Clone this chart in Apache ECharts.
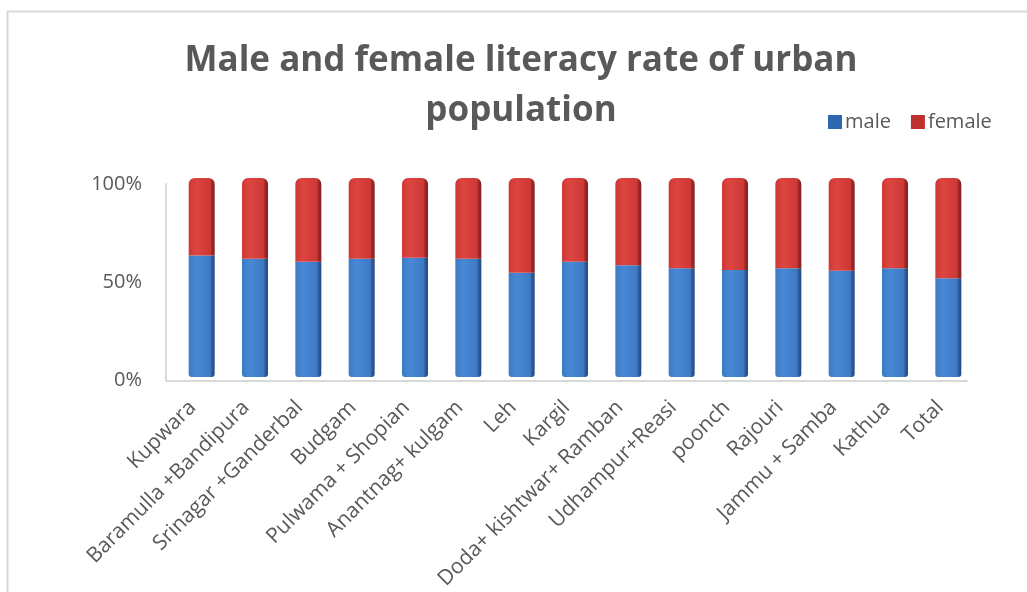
<!DOCTYPE html>
<html>
<head>
<meta charset="utf-8">
<script src="https://cdn.jsdelivr.net/npm/echarts@6/dist/echarts.min.js"></script>
<style>
  html, body { margin: 0; padding: 0; background: #ffffff; }
  #chart { width: 1027px; height: 592px; }
</style>
</head>
<body>
<div id="chart"></div>
<script>
// Districts (urban areas) shown along the category axis
const categories = [
  'Kupwara', 'Baramulla +Bandipura', 'Srinagar +Ganderbal', 'Budgam',
  'Pulwama + Shopian', 'Anantnag+ kulgam', 'Leh', 'Kargil',
  'Doda+ kishtwar+ Ramban', 'Udhampur+Reasi', 'poonch', 'Rajouri',
  'Jammu + Samba', 'Kathua', 'Total'
];

// Share of each stacked column (percent)
const maleShare = [61.0, 59.4, 57.9, 59.4, 59.9, 59.4, 52.4, 57.9, 56.1, 54.6, 53.8, 54.6, 53.4, 54.6, 49.6];
const femaleShare = [39.0, 40.6, 42.1, 40.6, 40.1, 40.6, 47.6, 42.1, 43.9, 45.4, 46.2, 45.4, 46.6, 45.4, 50.4];

const yTicks = [0, 50, 100];

const textGrey = '#595959';
const lineGrey = '#d9d9d9';
const font = 'Open Sans';

// Horizontal gradient: lit front face, then a darker strip for the column's side
function columnFill(light, mid, dark, side) {
  return new echarts.graphic.LinearGradient(0, 0, 1, 0, [
    { offset: 0, color: mid },
    { offset: 0.3, color: light },
    { offset: 0.84, color: mid },
    { offset: 0.88, color: dark },
    { offset: 1, color: side }
  ]);
}

const maleFill = columnFill('#4789d6', '#3d79c3', '#2d5e9c', '#234a7e');
const femaleFill = columnFill('#dd4541', '#cd3834', '#a32a27', '#80201e');

const chart = echarts.init(document.getElementById('chart'), null, { renderer: 'canvas' });

chart.setOption({
  backgroundColor: '#ffffff',
  animation: false,
  title: {
    text: 'Male and female literacy rate of urban\npopulation',
    left: 516,
    textAlign: 'center',
    top: 31,
    textStyle: {
      fontFamily: font,
      fontWeight: 'bold',
      fontSize: 35,
      lineHeight: 50,
      color: textGrey
    }
  },
  legend: {
    left: 823,
    top: 107,
    itemWidth: 14,
    itemHeight: 14,
    itemGap: 20,
    icon: 'rect',
    textStyle: { fontFamily: font, fontSize: 20, color: textGrey, padding: [0, 0, 0, -2] },
    data: [
      { name: 'male', itemStyle: { color: '#2f66b0' } },
      { name: 'female', itemStyle: { color: '#c0312e' } }
    ]
  },
  grid: [
    // axis frame: walls, tick labels
    { left: 166, right: 60, top: 184, bottom: 211 },
    // columns sit slightly in front of / above the back wall
    { left: 175, right: 52, top: 178, bottom: 215 }
  ],
  xAxis: [
    {
      gridIndex: 0,
      type: 'category',
      data: categories,
      axisTick: { show: false },
      axisLine: { lineStyle: { color: lineGrey, width: 2 } },
      axisLabel: {
        rotate: 45,
        interval: 0,
        margin: 24,
        fontFamily: font,
        fontSize: 21,
        color: textGrey
      }
    },
    {
      gridIndex: 1,
      type: 'category',
      data: categories,
      show: false
    }
  ],
  yAxis: [
    {
      gridIndex: 0,
      type: 'value',
      min: yTicks[0],
      max: yTicks[yTicks.length - 1],
      interval: yTicks[1] - yTicks[0],
      splitLine: { show: false },
      axisTick: { show: false },
      axisLine: { show: true, lineStyle: { color: lineGrey, width: 2 } },
      axisLabel: {
        margin: 24,
        fontFamily: font,
        fontSize: 20,
        color: textGrey,
        formatter: '{value}%'
      }
    },
    {
      gridIndex: 1,
      type: 'value',
      min: yTicks[0],
      max: yTicks[yTicks.length - 1],
      show: false
    }
  ],
  series: [
    {
      name: 'male',
      type: 'bar',
      xAxisIndex: 1,
      yAxisIndex: 1,
      stack: 'share',
      barWidth: 26,
      data: maleShare,
      itemStyle: { color: maleFill, borderRadius: [0, 0, 3, 3] }
    },
    {
      name: 'female',
      type: 'bar',
      xAxisIndex: 1,
      yAxisIndex: 1,
      stack: 'share',
      barWidth: 26,
      data: femaleShare,
      itemStyle: { color: femaleFill, borderRadius: [6, 6, 0, 0] }
    }
  ],
  graphic: [
    {
      type: 'rect',
      silent: true,
      z: -10,
      shape: { x: 7.5, y: 11.5, width: 1040, height: 620 },
      style: { fill: 'none', stroke: lineGrey, lineWidth: 2 }
    }
  ]
});
</script>
</body>
</html>
